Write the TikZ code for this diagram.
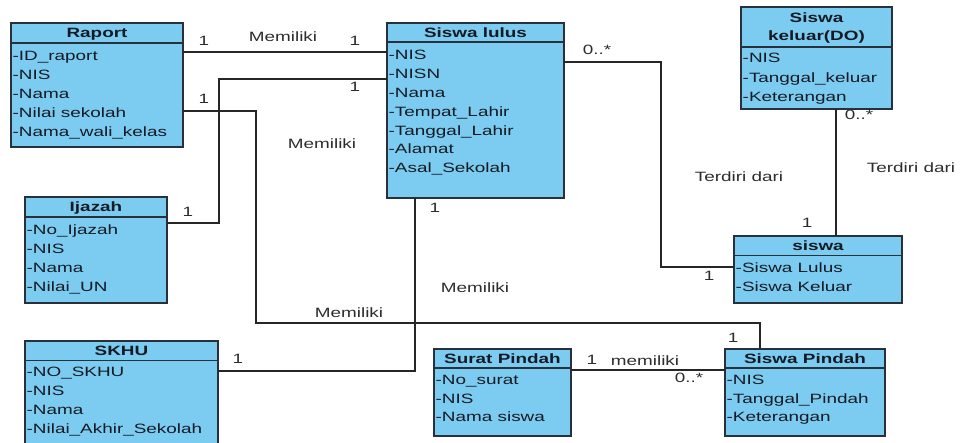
\documentclass[tikz,border=0pt]{standalone}
\usepackage{fontspec}
\newfontfamily\umlfont[FakeStretch=1.4]{Liberation Sans}
\usetikzlibrary{calc}
\definecolor{boxfill}{RGB}{124,204,241}
\definecolor{boxline}{RGB}{40,48,58}
\definecolor{txt}{RGB}{22,26,36}
\definecolor{lbl}{RGB}{45,45,45}
\tikzset{
  cls/.style={draw=boxline, fill=boxfill, line width=1.4pt, inner sep=0pt, outer sep=0pt, anchor=north west},
  hdr/.style={font=\umlfont\fontsize{13.5}{15}\selectfont\bfseries, text=txt, inner sep=0pt, text height=9.7pt, text depth=0pt, align=center},
  attr/.style={font=\umlfont\fontsize{13.5}{15}\selectfont, text=txt, inner sep=0pt, text height=9.7pt, text depth=0pt, anchor=west},
  lab/.style={font=\umlfont\fontsize{13.5}{15}\selectfont, text=lbl, inner sep=0pt, text height=9.7pt, text depth=0pt},
  conn/.style={draw=black!85, line width=1.4pt},
  sepl/.style={draw=boxline, line width=1.2pt}
}
\begin{document}
\begin{tikzpicture}[x=1pt,y=-1pt]
\useasboundingbox (0,0) rectangle (962,443);
\clip (0,0) rectangle (962,443);
\fill[white] (0,0) rectangle (962,443);

% ---------- classes ----------
\node[cls, minimum width=172pt, minimum height=124pt] (raport) at (11,23) {};
\node[hdr] (raport-h) at ($(raport.north)+(0,10)$) {Raport};
\draw[sepl] ($(raport.north west)+(0,20)$) -- ($(raport.north east)+(0,20)$);
\foreach \t [count=\i] in {-ID\_raport,-NIS,-Nama,-Nilai sekolah,-Nama\_wali\_kelas}
  \node[attr] (raport-a\i) at ($(raport.north west)+(1.5,{33+18.8*(\i-1)})$) {\t};

\node[cls, minimum width=177pt, minimum height=175pt] (lulus) at (387,23) {};
\node[hdr] (lulus-h) at ($(lulus.north)+(0,9.5)$) {Siswa lulus};
\draw[sepl] ($(lulus.north west)+(0,19)$) -- ($(lulus.north east)+(0,19)$);
\foreach \t [count=\i] in {-NIS,-NISN,-Nama,-Tempat\_Lahir,-Tanggal\_Lahir,-Alamat,-Asal\_Sekolah}
  \node[attr] (lulus-a\i) at ($(lulus.north west)+(1.5,{32+18.8*(\i-1)})$) {\t};

\node[cls, minimum width=151pt, minimum height=102pt] (keluar) at (741,7) {};
\node[hdr] (keluar-h1) at ($(keluar.north)+(0,11)$) {Siswa};
\node[hdr] (keluar-h2) at ($(keluar.north)+(0,29)$) {keluar(DO)};
\draw[sepl] ($(keluar.north west)+(0,40)$) -- ($(keluar.north east)+(0,40)$);
\foreach \t [count=\i] in {-NIS,-Tanggal\_keluar,-Keterangan}
  \node[attr] (keluar-a\i) at ($(keluar.north west)+(1.5,{51+19.5*(\i-1)})$) {\t};

\node[cls, minimum width=168pt, minimum height=67pt] (siswa) at (734,236) {};
\node[hdr] (siswa-h) at ($(siswa.north)+(0,10)$) {siswa};
\draw[sepl] ($(siswa.north west)+(0,19.5)$) -- ($(siswa.north east)+(0,19.5)$);
\foreach \t [count=\i] in {-Siswa Lulus,-Siswa Keluar}
  \node[attr] (siswa-a\i) at ($(siswa.north west)+(1.5,{32+19*(\i-1)})$) {\t};

\node[cls, minimum width=142pt, minimum height=106pt] (ijazah) at (25,197) {};
\node[hdr] (ijazah-h) at ($(ijazah.north)+(0,10)$) {Ijazah};
\draw[sepl] ($(ijazah.north west)+(0,20)$) -- ($(ijazah.north east)+(0,20)$);
\foreach \t [count=\i] in {-No\_Ijazah,-NIS,-Nama,-Nilai\_UN}
  \node[attr] (ijazah-a\i) at ($(ijazah.north west)+(1.5,{33+18.8*(\i-1)})$) {\t};

\node[cls, minimum width=193pt, minimum height=112pt] (skhu) at (25,341) {};
\node[hdr] (skhu-h) at ($(skhu.north)+(0,10)$) {SKHU};
\draw[sepl] ($(skhu.north west)+(0,19.5)$) -- ($(skhu.north east)+(0,19.5)$);
\foreach \t [count=\i] in {-NO\_SKHU,-NIS,-Nama,-Nilai\_Akhir\_Sekolah}
  \node[attr] (skhu-a\i) at ($(skhu.north west)+(1.5,{31+19*(\i-1)})$) {\t};

\node[cls, minimum width=137pt, minimum height=87pt] (surat) at (434,349) {};
\node[hdr] (surat-h) at ($(surat.north)+(0,10)$) {Surat Pindah};
\draw[sepl] ($(surat.north west)+(0,19)$) -- ($(surat.north east)+(0,19)$);
\foreach \t [count=\i] in {-No\_surat,-NIS,-Nama siswa}
  \node[attr] (surat-a\i) at ($(surat.north west)+(1.5,{31+18.5*(\i-1)})$) {\t};

\node[cls, minimum width=160pt, minimum height=87pt] (spindah) at (725,349) {};
\node[hdr] (spindah-h) at ($(spindah.north)+(0,10)$) {Siswa Pindah};
\draw[sepl] ($(spindah.north west)+(0,19)$) -- ($(spindah.north east)+(0,19)$);
\foreach \t [count=\i] in {-NIS,-Tanggal\_Pindah,-Keterangan}
  \node[attr] (spindah-a\i) at ($(spindah.north west)+(1.5,{31+18.5*(\i-1)})$) {\t};

% ---------- connectors ----------
\draw[conn] ($(raport.north east)+(0,29)$) -- ($(lulus.north west)+(0,29)$);
\draw[conn] ($(lulus.north west)+(0,56)$) -- ++(-168,0) |- ($(ijazah.north east)+(0,26)$);
\draw[conn] ($(raport.north east)+(0,88)$) -- ++(73,0) |- ($(spindah.north west)+(35,-26)$) -- ($(spindah.north west)+(35,0)$);
\draw[conn] ($(lulus.south west)+(28,0)$) |- ($(skhu.north east)+(0,30)$);
\draw[conn] ($(lulus.north east)+(0,39)$) -- ++(97,0) |- ($(siswa.north west)+(0,31)$);
\draw[conn] ($(keluar.south west)+(95,0)$) -- ($(siswa.north west)+(102,0)$);
\draw[conn] ($(surat.north east)+(0,21)$) -- ($(spindah.north west)+(0,21)$);

% ---------- labels ----------
\node[lab] (m1a) at (204,41) {1};
\node[lab] (m1t) at (283,37) {Memiliki};
\node[lab] (m1b) at (355,41) {1};
\node[lab] (m2a) at (355,87) {1};
\node[lab] (m2b) at (188,212) {1};
\node[lab] (m3a) at (204,99) {1};
\node[lab] (m3t) at (322,144) {Memiliki};
\node[lab] (m3u) at (349,313) {Memiliki};
\node[lab] (m3b) at (733,338) {1};
\node[lab] (m4a) at (435,208) {1};
\node[lab] (m4t) at (475,288) {Memiliki};
\node[lab] (m4b) at (238,359) {1};
\node[lab] (t1a) at (597,50) {0..*};
\node[lab] (t1t) at (739,177) {Terdiri dari};
\node[lab] (t1b) at (709,276) {1};
\node[lab] (t2a) at (859,115) {0..*};
\node[lab] (t2t) at (911,168) {Terdiri dari};
\node[lab] (t2b) at (807,223) {1};
\node[lab] (p1a) at (592,360) {1};
\node[lab] (p1t) at (645,361) {memiliki};
\node[lab] (p1b) at (689,378) {0..*};
\end{tikzpicture}
\end{document}
